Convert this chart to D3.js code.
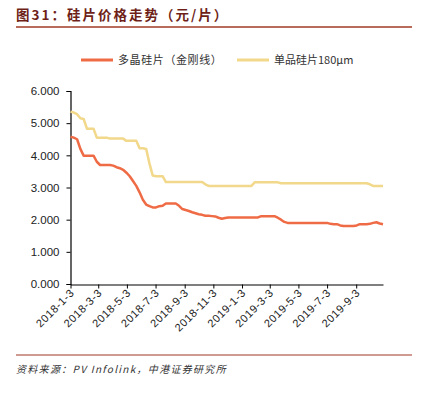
<!DOCTYPE html>
<html><head><meta charset="utf-8">
<script src="https://cdn.jsdelivr.net/npm/d3@7"></script>
<style>
body{margin:0;background:#fff;}
svg{display:block;font-family:"Liberation Sans",Arial,sans-serif;}
</style></head>
<body><div id="chart"></div>
<script>
const startDate = "2018-01-03";
const seriesNames = ["多晶硅片（金刚线）", "单品硅片180μm"];
const seriesColors = ["#EF6B45", "#F2D88A"];
const multiValues = [4.58,4.55,4.50,4.20,3.99,3.99,3.99,3.99,3.80,3.70,
  3.70,3.70,3.70,3.68,3.63,3.60,3.55,3.46,3.35,3.20,
  3.05,2.85,2.62,2.47,2.42,2.38,2.38,2.42,2.43,2.50,
  2.50,2.50,2.50,2.43,2.33,2.30,2.27,2.23,2.20,2.17,
  2.15,2.12,2.12,2.11,2.10,2.06,2.03,2.05,2.07,2.07,
  2.07,2.07,2.07,2.07,2.07,2.07,2.07,2.07,2.11,2.11,
  2.11,2.11,2.11,2.06,2.00,1.93,1.90,1.90,1.90,1.90,
  1.90,1.90,1.90,1.90,1.90,1.90,1.90,1.90,1.90,1.87,
  1.86,1.86,1.82,1.80,1.80,1.80,1.80,1.82,1.86,1.86,
  1.86,1.87,1.90,1.92,1.88,1.86];
const monoValues = [5.36,5.33,5.28,5.15,5.13,4.83,4.83,4.83,4.55,4.55,
  4.55,4.55,4.52,4.52,4.52,4.52,4.52,4.45,4.45,4.45,
  4.45,4.22,4.22,4.20,3.75,3.37,3.35,3.35,3.35,3.17,
  3.17,3.17,3.17,3.17,3.17,3.17,3.17,3.17,3.17,3.17,
  3.17,3.10,3.05,3.05,3.05,3.05,3.05,3.05,3.05,3.05,
  3.05,3.05,3.05,3.05,3.05,3.05,3.16,3.16,3.16,3.16,
  3.16,3.16,3.16,3.16,3.13,3.13,3.13,3.13,3.13,3.13,
  3.13,3.13,3.13,3.13,3.13,3.13,3.13,3.13,3.13,3.13,
  3.13,3.13,3.13,3.13,3.13,3.13,3.13,3.13,3.13,3.13,
  3.13,3.10,3.05,3.05,3.05,3.05];
const xTickLabels = ["2018-1-3","2018-3-3","2018-5-3","2018-7-3","2018-9-3","2018-11-3","2019-1-3","2019-3-3","2019-5-3","2019-7-3","2019-9-3"];
const yTicks = [0,1,2,3,4,5,6];

const W = 422, H = 393;
const svg = d3.select("#chart").append("svg").attr("width", W).attr("height", H);

const parse = d3.timeParse("%Y-%m-%d");
const start = parse(startDate);
const dates = multiValues.map((_, i) => d3.timeDay.offset(start, 7 * i));
const tickDates = xTickLabels.map(s => d3.timeParse("%Y-%-m-%-d")(s));

const x = d3.scaleTime().domain([start, dates[dates.length - 1]]).range([70.5, 383]);
const y = d3.scaleLinear().domain([0, 6]).range([284, 91]);

// Title
svg.append("text").attr("x", 16).attr("y", 20)
  .attr("font-size", 13.5).attr("font-weight", "bold").attr("fill", "#6E1F18")
  .attr("letter-spacing", 2)
  .attr("font-family", "'Noto Sans CJK SC',sans-serif")
  .text("图31：硅片价格走势（元/片）");
svg.append("line").attr("x1", 16).attr("x2", 412).attr("y1", 27).attr("y2", 27)
  .attr("stroke", "#A23A26").attr("stroke-width", 1.5);

// Legend
const legX = [81, 237];
seriesNames.forEach((n, i) => {
  svg.append("line").attr("x1", legX[i]).attr("x2", legX[i] + 32).attr("y1", 60).attr("y2", 60)
    .attr("stroke", seriesColors[i]).attr("stroke-width", 3);
  svg.append("text").attr("x", legX[i] + 37).attr("y", 64)
    .attr("font-size", 11).attr("fill", "#333")
    .attr("letter-spacing", i === 0 ? 0.6 : 0)
    .attr("font-family", "'Noto Sans CJK SC','Liberation Sans',sans-serif")
    .text(n);
});

// Axes
const yAxis = d3.axisLeft(y).tickValues(yTicks).tickFormat(d3.format(".3f")).tickSize(4).tickPadding(7);
const gy = svg.append("g").attr("transform", "translate(70.5,0)").call(yAxis);
gy.selectAll("text").attr("font-size", 11.5).attr("fill", "#222").attr("font-family", "'Liberation Sans',Arial,sans-serif");
gy.select(".domain").attr("stroke", "#000").attr("stroke-width", 1.2);

const xAxis = d3.axisBottom(x).tickValues(tickDates).tickFormat((d, i) => xTickLabels[i]).tickSize(4).tickSizeOuter(0);
const gx = svg.append("g").attr("transform", "translate(0,284.5)").call(xAxis);
gx.select(".domain").attr("stroke", "#000").attr("stroke-width", 1.2);
gx.selectAll("text").attr("font-size", 11).attr("fill", "#222")
  .attr("letter-spacing", 0.6)
  .attr("font-family", "'Liberation Sans',Arial,sans-serif")
  .attr("text-anchor", "end")
  .attr("dy", null).attr("y", 0)
  .attr("transform", "translate(4,9) rotate(-45)");

// Lines
const line = d3.line().x((d, i) => x(dates[i])).y(d => y(d));
[multiValues, monoValues].forEach((vals, i) => {
  svg.append("path").datum(vals).attr("d", line)
    .attr("fill", "none").attr("stroke", seriesColors[i]).attr("stroke-width", 2.5)
    .attr("stroke-linejoin", "round");
});

// Footer
svg.append("line").attr("x1", 16).attr("x2", 412).attr("y1", 355).attr("y2", 355)
  .attr("stroke", "#A23A26").attr("stroke-width", 1.2);
svg.append("text").attr("x", 16).attr("y", 373)
  .attr("font-size", 10).attr("font-style", "italic").attr("fill", "#333")
  .attr("letter-spacing", 1.3)
  .attr("font-family", "'Noto Sans CJK SC','Liberation Sans',sans-serif")
  .text("资料来源：PV Infolink，中港证券研究所");
</script></body></html>
